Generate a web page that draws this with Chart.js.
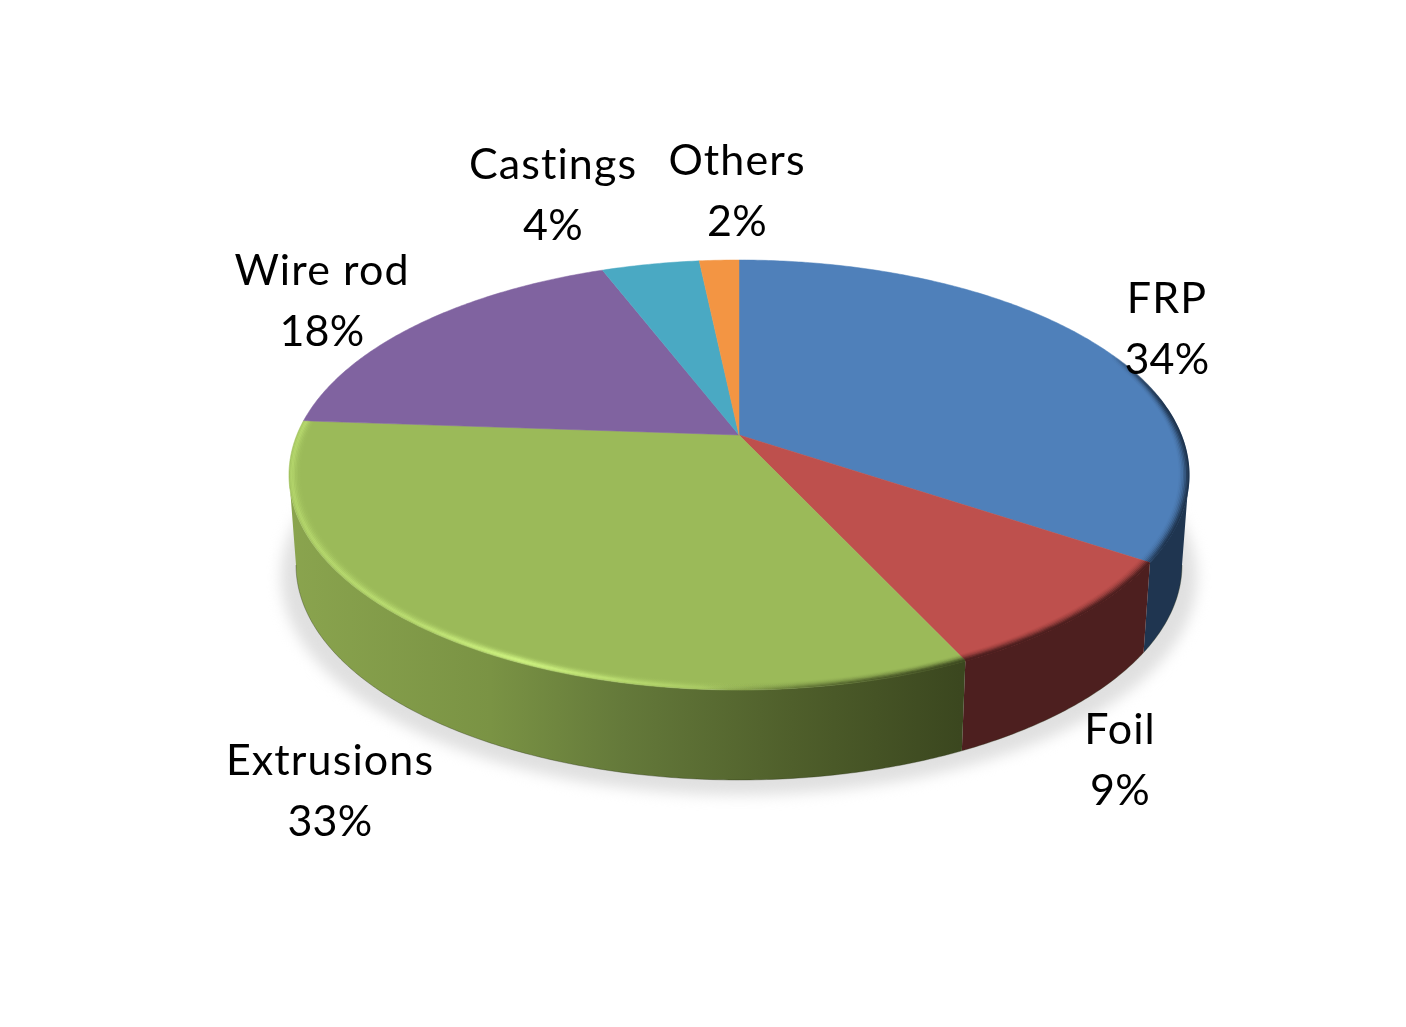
<!DOCTYPE html>
<html>
<head>
<meta charset="utf-8">
<title>Pie</title>
<style>
    html, body { margin: 0; padding: 0; background: #fff; }
    canvas { display: block; }
</style>
<script src="https://cdn.jsdelivr.net/npm/chart.js@4/dist/chart.umd.min.js"></script>
</head>
<body>
<canvas id="pie-chart" width="1406" height="1027"></canvas>
<script>
    "use strict";

    // Data
    var categories = ["FRP", "Foil", "Extrusions", "Wire rod", "Castings", "Others"];
    var shares = [34.3, 8.7, 33.1, 18, 4.2, 1.7];
    var sliceColors = ["#4f80ba", "#be504d", "#9bba59", "#8063a0", "#4aa9c3", "#f39543"];
    var wallColors = ["#1f3550", "#4d1f1f", "#3f4c21", "#4a3a5e", "#2b6272", "#8f5726"];

    // Label anchors, [x, baseline of the name]
    var labelSpots = [[1167, 313], [1120, 744], [330, 775], [322, 285], [553, 179], [737, 175]];
    var labelLineGap = 61;

    // Disc seen in perspective: both ellipses, and where the pie centre lands
    var topDisc = { x: 739, y: 475, rx: 450, ry: 215 };
    var baseDisc = { x: 739, y: 565, rx: 443, ry: 215 };
    var tilt = -40 / 215;
    var leftOfFront = Math.asin(-tilt);

    // Angle and radius on the flat pie -> pixel on the ellipse
    function project(angle, rho, disc) {
        var X = rho * Math.cos(angle);
        var Y = rho * Math.sin(angle);
        var d = 1 + tilt * Y;
        return [
            disc.x + disc.rx * X * Math.sqrt(1 - tilt * tilt) / d,
            disc.y + disc.ry * (Y + tilt) / d
        ];
    }

    function traceArc(ctx, from, to, rho, disc, start) {
        var steps = Math.max(2, Math.ceil(Math.abs(to - from) / 0.01));
        for (var i = 0; i <= steps; i++) {
            var p = project(from + (to - from) * i / steps, rho, disc);
            if (i === 0 && start) {
                ctx.moveTo(p[0], p[1]);
            } else {
                ctx.lineTo(p[0], p[1]);
            }
        }
    }

    function hGradient(ctx, x0, x1, stops) {
        var g = ctx.createLinearGradient(x0, 0, x1, 0);
        stops.forEach(function (s) { g.addColorStop(s[0], s[1]); });
        return g;
    }

    function drawShadow(ctx) {
        ctx.save();
        ctx.filter = "blur(7px)";
        ctx.fillStyle = "#e0e0e0";
        ctx.beginPath();
        ctx.ellipse(739, 577, 458, 218, 0, 0, Math.PI * 2);
        ctx.fill();
        ctx.restore();
    }

    function wallFill(ctx, index) {
        if (index === 2) {
            return hGradient(ctx, 289, 960, [
                [0, "#8aa44e"], [0.3, "#7a9344"], [0.5, "#64793a"], [0.75, "#4f5f2b"], [1, "#3b471f"]
            ]);
        }
        return wallColors[index];
    }

    function drawWalls(ctx, arcs) {
        var lo = leftOfFront;
        var hi = Math.PI - leftOfFront;
        arcs.forEach(function (arc, i) {
            var from = Math.max(arc.startAngle, lo);
            var to = Math.min(arc.endAngle, hi);
            if (to <= from) {
                return;
            }
            ctx.beginPath();
            traceArc(ctx, from, to, 1, topDisc, true);
            traceArc(ctx, to, from, 1, baseDisc, false);
            ctx.closePath();
            ctx.fillStyle = wallFill(ctx, i);
            ctx.fill();
            // thin darker line on the lower edge
            ctx.beginPath();
            traceArc(ctx, from, to, 1, baseDisc, true);
            ctx.strokeStyle = "rgba(40,50,20,0.35)";
            ctx.lineWidth = 1;
            ctx.stroke();
        });
    }

    function drawFaces(ctx, arcs, colors) {
        arcs.forEach(function (arc, i) {
            var c = project(0, 0, topDisc);
            ctx.beginPath();
            ctx.moveTo(c[0], c[1]);
            traceArc(ctx, arc.startAngle, arc.endAngle, 1, topDisc, false);
            ctx.closePath();
            ctx.fillStyle = colors[i];
            ctx.strokeStyle = colors[i];
            ctx.lineWidth = 0.5;
            ctx.fill();
            ctx.stroke();
        });
    }

    // Bevel on the rim: rings from inside to outside, faded by the weights
    function drawRim(ctx, arc, style, weights) {
        ctx.save();
        ctx.strokeStyle = style;
        ctx.lineWidth = 2;
        for (var i = weights.length - 1; i >= 0; i--) {
            ctx.globalAlpha = weights[i];
            ctx.beginPath();
            traceArc(ctx, arc.startAngle, arc.endAngle, 1 - 0.0032 * i - 0.001, topDisc, true);
            ctx.stroke();
        }
        ctx.restore();
    }

    function drawBevels(ctx, arcs) {
        var dark = [1, 0.8, 0.55, 0.35, 0.2, 0.1, 0.04];
        var light = [0.35, 0.8, 0.9, 0.6, 0.4, 0.22, 0.1, 0.04];
        drawRim(ctx, arcs[0], hGradient(ctx, 1110, 1165, [[0, "rgba(31,53,80,0)"], [1, "rgba(31,53,80,1)"]]), dark);
        drawRim(ctx, arcs[1], "#4d1f1f", dark);
        drawRim(ctx, arcs[2], hGradient(ctx, 700, 962, [
            [0, "rgba(63,76,33,0)"], [0.5, "rgba(63,76,33,0.5)"], [1, "rgba(63,76,33,1)"]
        ]), dark);
        drawRim(ctx, arcs[2], hGradient(ctx, 289, 800, [
            [0, "rgba(196,232,120,0.5)"], [0.25, "rgba(196,232,120,0.65)"], [0.45, "rgba(205,242,128,1)"],
            [0.65, "rgba(196,232,120,0.55)"], [0.85, "rgba(196,232,120,0.12)"], [1, "rgba(196,232,120,0)"]
        ]), light);
    }

    function drawLabels(ctx, chart) {
        var values = chart.data.datasets[0].data;
        var total = values.reduce(function (a, b) { return a + b; }, 0);
        ctx.save();
        ctx.font = "43px Lato";
        ctx.fillStyle = "#000";
        ctx.textAlign = "center";
        ctx.textBaseline = "alphabetic";
        chart.data.labels.forEach(function (name, i) {
            var spot = labelSpots[i];
            // letter spacing also stops Lato's "ti" ligature
            ctx.letterSpacing = "1.1px";
            ctx.fillText(name, spot[0], spot[1]);
            ctx.letterSpacing = "0.3px";
            ctx.fillText(Math.round(values[i] / total * 100) + "%", spot[0], spot[1] + labelLineGap);
        });
        ctx.restore();
    }

    // Replaces the flat drawing, the slice angles still come from Chart.js
    var pie3d = {
        id: "pie3d",
        beforeDatasetsDraw: function (chart) {
            var ctx = chart.ctx;
            var arcs = chart.getDatasetMeta(0).data;
            var colors = chart.data.datasets[0].backgroundColor;
            drawShadow(ctx);
            drawWalls(ctx, arcs);
            drawFaces(ctx, arcs, colors);
            drawBevels(ctx, arcs);
            drawLabels(ctx, chart);
            return false;
        }
    };

    var ctx1 = document.getElementById("pie-chart").getContext("2d");
    var myChart1 = new Chart(ctx1, {
        type: "pie",
        data: {
            labels: categories,
            datasets: [{
                data: shares,
                backgroundColor: sliceColors,
                borderWidth: 0
            }]
        },
        options: {
            responsive: false,
            animation: false,
            plugins: {
                legend: { display: false },
                tooltip: { enabled: false }
            }
        },
        plugins: [pie3d]
    });
</script>
</body>
</html>
